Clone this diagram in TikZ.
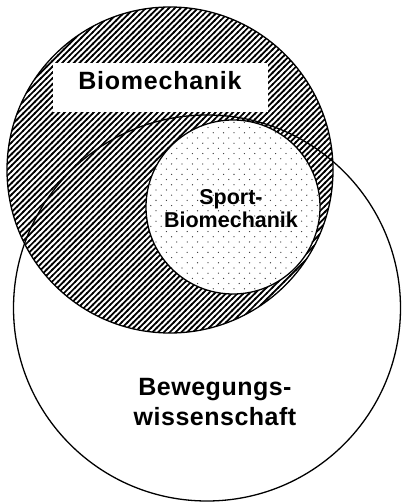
\documentclass[tikz,border=0pt]{standalone}
\usepackage{fontspec}
\setmainfont{Liberation Sans}
\usetikzlibrary{patterns}
\pgfdeclarepatternformonly{myhatch}{\pgfpoint{-1pt}{-1pt}}{\pgfpoint{6.8pt}{6.8pt}}{\pgfpoint{5.8pt}{5.8pt}}{%
  \pgfsetlinewidth{1.7pt}%
  \pgfpathmoveto{\pgfpoint{-1pt}{-1pt}}\pgfpathlineto{\pgfpoint{6.8pt}{6.8pt}}%
  \pgfusepath{stroke}}
\pgfdeclarepatternformonly{mydots}{\pgfpoint{-1pt}{-1pt}}{\pgfpoint{11pt}{11pt}}{\pgfpoint{10.4pt}{10.4pt}}{%
  \pgfpathcircle{\pgfpoint{0pt}{0pt}}{0.65pt}%
  \pgfpathcircle{\pgfpoint{5.2pt}{5.2pt}}{0.65pt}%
  \pgfusepath{fill}}
\tikzset{
  outline/.style={draw=black, line width=1.3pt},
  bigfont/.style={font=\fontsize{25}{25}\selectfont\bfseries\addfontfeature{LetterSpace=3}},
  bwfont/.style={font=\fontsize{25}{25}\selectfont\bfseries\addfontfeature{LetterSpace=2}},
  smallfont/.style={font=\fontsize{21.5}{21.5}\selectfont\bfseries},
  lbl/.style={anchor=base, inner sep=0pt, text=black}
}
\begin{document}
\begin{tikzpicture}[x=1pt, y=-1pt]
  \useasboundingbox (0,0) rectangle (401,502);
  % Biomechanik circle (hatched)
  \fill[white] (170,170) circle [radius=163pt];
  \path[pattern=myhatch, pattern color=black] (170,170) circle [radius=163pt];
  \draw[outline] (170,170) circle [radius=163pt];
  % white label box
  \fill[white] (53,63) rectangle (268,112);
  % Sport-Biomechanik circle (dotted)
  \fill[white] (233,207) circle [radius=87pt];
  \path[pattern=mydots, pattern color=black!80] (233,207) circle [radius=87pt];
  \draw[outline] (233,207) circle [radius=87pt];
  % Bewegungswissenschaft ellipse
  \draw[outline] (207,308) ellipse [x radius=193.5pt, y radius=193pt];
  % labels
  \node[lbl, bigfont] (bio) at (160,90) {Biomechanik};
  \node[lbl, smallfont] (sp1) at (231,205) {Sport-};
  \node[lbl, smallfont] (sp2) at (231,227) {Biomechanik};
  \node[lbl, bwfont] (bw1) at (215,395) {Bewegungs-};
  \node[lbl, bwfont] (bw2) at (215,425) {wissenschaft};
\end{tikzpicture}
\end{document}
